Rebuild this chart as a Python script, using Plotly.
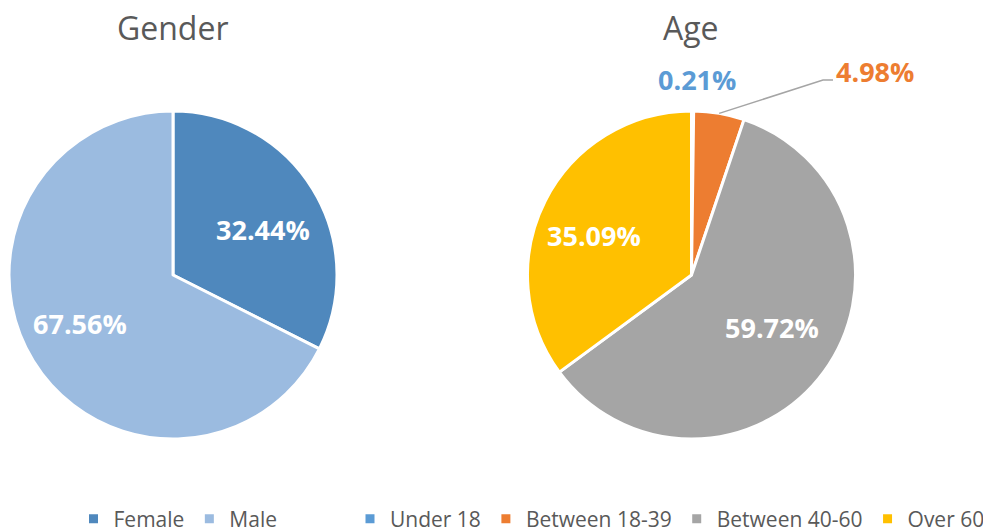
import math
import plotly.graph_objects as go

# ---- data ----
gender_labels = ["Female", "Male"]
gender_values = [32.44, 67.56]
age_labels = ["Under 18", "Between 18-39", "Between 40-60", "Over 60"]
age_values = [0.21, 4.98, 59.72, 35.09]

# ---- styles ----
gender_colors = ["#4F88BD", "#9BBBE0"]
age_colors = ["#5B9BD5", "#ED7D31", "#A5A5A5", "#FFC000"]
FONT = "Open Sans"
GREY = "#595959"
LABEL_SIZE = 27

W, H = 983, 532
gender_box = (9, 111, 337, 439)   # left, top, right, bottom in px
age_box = (527, 111, 856, 439)


def px_to_paper(x, y):
    return x / W, 1 - y / H


def box_domain(b):
    l, t, r, bt = b
    return dict(x=[l / W, r / W], y=[1 - bt / H, 1 - t / H])


def center_radius(b):
    l, t, r, bt = b
    return (l + r) / 2, (t + bt) / 2, min(r - l, bt - t) / 2


def mid_angles(values):
    tot = sum(values)
    out, cum = [], 0.0
    for v in values:
        out.append(360 * (cum + v / 2) / tot)
        cum += v
    return out


def polar_px(b, ang, frac):
    cx, cy, R = center_radius(b)
    a = math.radians(ang)
    return cx + frac * R * math.sin(a), cy - frac * R * math.cos(a)


fig = go.Figure()
fig.add_trace(go.Pie(
    labels=gender_labels, values=gender_values, sort=False, direction="clockwise",
    rotation=0, textinfo="none", hoverinfo="label+percent",
    marker=dict(colors=gender_colors, line=dict(color="white", width=3)),
    domain=box_domain(gender_box), legend="legend",
))
fig.add_trace(go.Pie(
    labels=age_labels, values=age_values, sort=False, direction="clockwise",
    rotation=0, textinfo="none", hoverinfo="label+percent",
    marker=dict(colors=age_colors, line=dict(color="white", width=3)),
    domain=box_domain(age_box), legend="legend2",
))

annotations = []
shapes = []

# titles
for txt, b in [("Gender", gender_box), ("Age", age_box)]:
    cx, _, _ = center_radius(b)
    x, y = px_to_paper(cx - 1, 28)
    annotations.append(dict(x=x, y=y, xref="paper", yref="paper", text=txt,
                            showarrow=False, font=dict(family=FONT, size=32, color=GREY),
                            xanchor="center", yanchor="middle"))

# inside labels
gender_fracs = [0.611, 0.638]
gender_angle_adj = [4.9, 4.3]
for v, ang, fr, adj in zip(gender_values, mid_angles(gender_values), gender_fracs, gender_angle_adj):
    x, y = polar_px(gender_box, ang + adj, fr)
    px, py = px_to_paper(x, y)
    annotations.append(dict(x=px, y=py, xref="paper", yref="paper", text=f"<b>{v:.2f}%</b>",
                            showarrow=False, font=dict(family=FONT, size=LABEL_SIZE, color="white"),
                            xanchor="center", yanchor="middle"))

age_mid = mid_angles(age_values)
# large slices inside
for i, fr, adj in [(2, 0.59, -3), (3, 0.64, -5)]:
    x, y = polar_px(age_box, age_mid[i] + adj, fr)
    px, py = px_to_paper(x, y)
    annotations.append(dict(x=px, y=py, xref="paper", yref="paper", text=f"<b>{age_values[i]:.2f}%</b>",
                            showarrow=False, font=dict(family=FONT, size=LABEL_SIZE, color="white"),
                            xanchor="center", yanchor="middle"))

# Under 18 outside label
x, y = polar_px(age_box, age_mid[0], 1.195)
px, py = px_to_paper(x + 4, y)
annotations.append(dict(x=px, y=py, xref="paper", yref="paper", text=f"<b>{age_values[0]:.2f}%</b>",
                        showarrow=False, font=dict(family=FONT, size=LABEL_SIZE, color=age_colors[0]),
                        xanchor="center", yanchor="middle"))

# 18-39 outside label with leader line
sx, sy = polar_px(age_box, age_mid[1], 1.0)
cx, cy, R = center_radius(age_box)
ex, ey = cx + 131.5, cy - 195
hx = ex + 10
p = [px_to_paper(sx, sy), px_to_paper(ex, ey), px_to_paper(hx, ey)]
shapes.append(dict(type="path", xref="paper", yref="paper",
                   path=f"M {p[0][0]},{p[0][1]} L {p[1][0]},{p[1][1]} L {p[2][0]},{p[2][1]}",
                   line=dict(color="#A5A5A5", width=1.5)))
lx, ly = px_to_paper(hx + 1, ey - 9)
annotations.append(dict(x=lx, y=ly, xref="paper", yref="paper", text=f"<b>{age_values[1]:.2f}%</b>",
                        showarrow=False, font=dict(family=FONT, size=LABEL_SIZE, color=age_colors[1]),
                        xanchor="left", yanchor="middle"))

leg_font = dict(family=FONT, size=21, color=GREY)
lgx1, lgy = px_to_paper(178, 519)
lgx2, _ = px_to_paper(670, 519)

fig.update_layout(
    width=W, height=H,
    margin=dict(l=0, r=0, t=0, b=0, autoexpand=False),
    paper_bgcolor="white", plot_bgcolor="white",
    annotations=annotations, shapes=shapes,
    legend=dict(orientation="h", x=lgx1, y=lgy, xanchor="center", yanchor="middle",
                font=leg_font, bgcolor="rgba(0,0,0,0)", traceorder="normal"),
    legend2=dict(orientation="h", x=lgx2, y=lgy, xanchor="center", yanchor="middle",
                 font=leg_font, bgcolor="rgba(0,0,0,0)", traceorder="normal"),
)

fig.write_html("out.html", config={"displayModeBar": False},
               post_script="document.body.style.margin='0';document.body.style.overflow='hidden';")
